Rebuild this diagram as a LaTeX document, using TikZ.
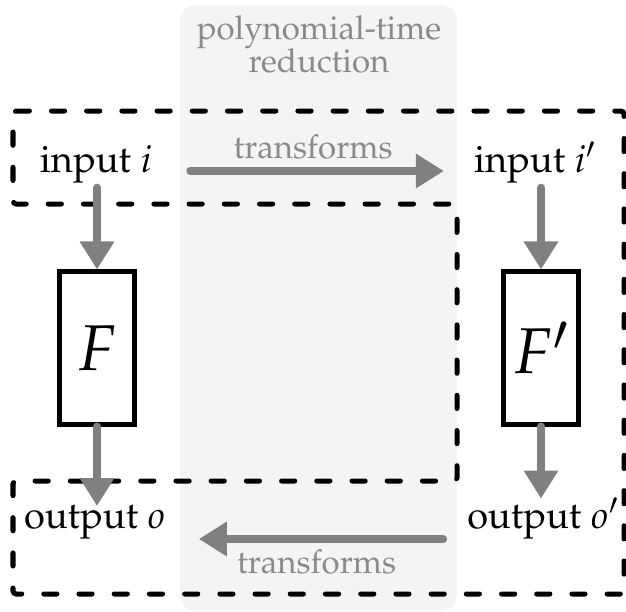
\documentclass[tikz,border=0pt]{standalone}
\usepackage[T1]{fontenc}
\usepackage{mathpazo}
\usetikzlibrary{arrows.meta}
\definecolor{flowgray}{gray}{0.5}
\definecolor{labelgray}{gray}{0.54}
\definecolor{bandgray}{gray}{0.955}
\tikzset{
  txt/.style={anchor=base, font=\fontsize{27}{29}\selectfont},
  lbl/.style={font={\fontsize{23.5}{23.5}\selectfont\lineskiplimit=-20pt}, text=labelgray},
  fbox/.style={draw, line width=0.125cm, minimum width=1.875cm, minimum height=3.8cm, inner sep=0pt, font=\fontsize{46}{50}\selectfont},
  flow/.style={draw=flowgray, line width=0.2cm, line cap=round, -{Triangle[length=0.7cm,width=0.82cm]}},
  frame/.style={draw, line width=0.125cm, line cap=round, dash pattern=on 0.33cm off 0.55cm, rounded corners=0.08cm}
}
\begin{document}
\begin{tikzpicture}[x=0.025cm,y=-0.025cm]
      \useasboundingbox (0,0) rectangle (626,612);
      \fill[bandgray, rounded corners=0.4cm] (180,5) rectangle (457,611);
      \draw (319,44) node[lbl, align=center] (title) {polynomial-time\\reduction};
      \draw[frame] (13,111) -- (624,111) -- (624,594) -- (13,594) -- (13,481)
        -- (457,481) -- (457,204) -- (13,204) -- cycle;
      \draw (96,172) node[txt] (i0) {input $i$};
      \draw (535,172) node[txt] (i1) {input $i'$};
      \draw (97,348) node[fbox] (f0) {$F$};
      \draw (541,348) node[fbox] (f1) {$F'$};
      \draw (95,528) node[txt] (o0) {output $o$};
      \draw (543,528) node[txt] (o1) {output $o'$};
      \draw[flow] (i0.south -| f0.north) -- (f0.north);
      \draw[flow] (i1.south -| f1.north) -- (f1.north);
      \draw[flow, shorten >=-0.15cm] (f0.south) -- (o0.north -| f0.south);
      \draw[flow, shorten >=-0.15cm] (f1.south) -- (o1.north -| f1.south);
      \draw[flow, shorten <=0.83cm, shorten >=0.63cm] ([yshift=0.025cm]i0.base east)
        -- node[lbl, anchor=base, yshift=0.3cm] {transforms} ([yshift=0.025cm]i1.base west);
      \draw[flow, shorten <=0.48cm, shorten >=0.7cm] ([yshift=-0.275cm]o1.base west)
        -- node[lbl, anchor=base, yshift=-0.85cm] {transforms} ([yshift=-0.275cm]o0.base east);
    \end{tikzpicture}
\end{document}
